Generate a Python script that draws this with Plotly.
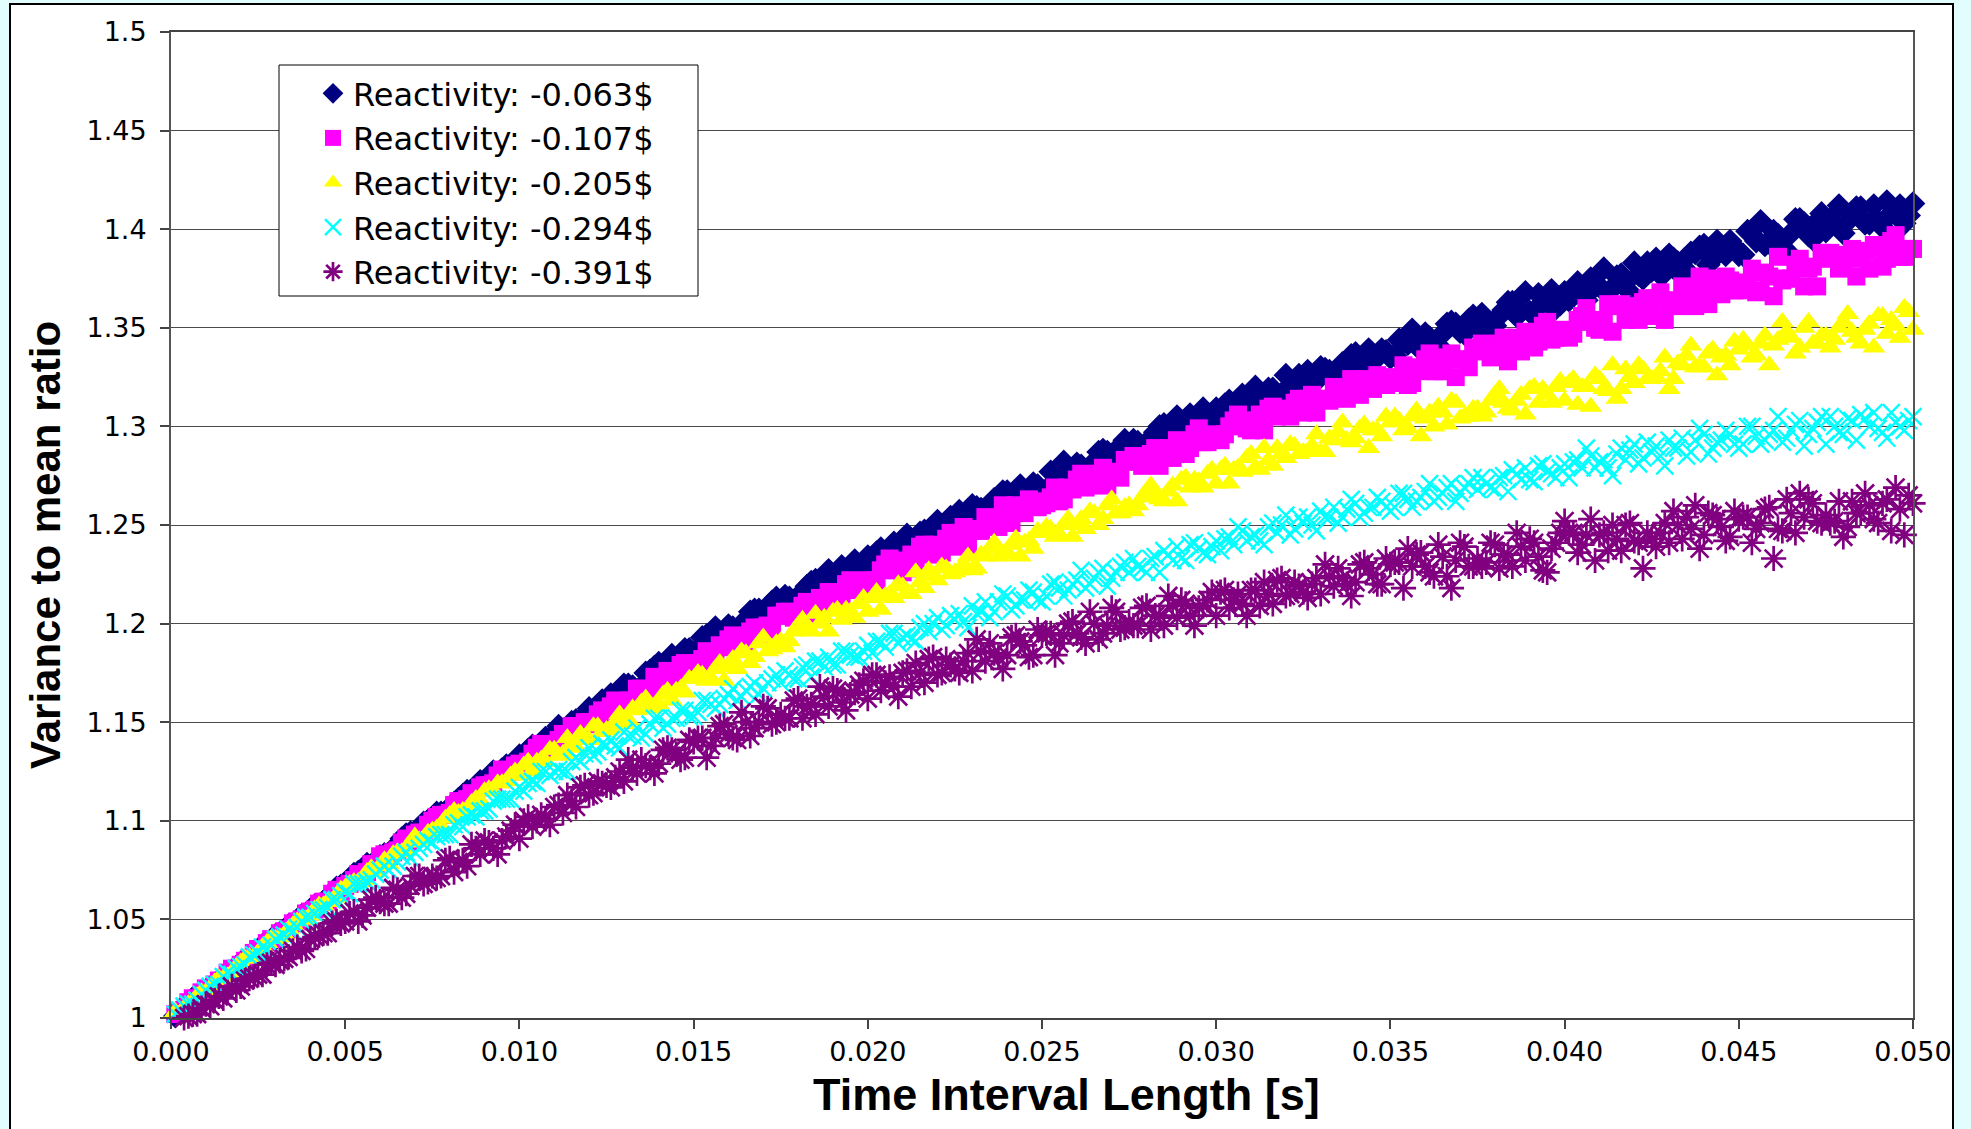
import plotly.graph_objects as go

# ---------------- data ----------------
# sampling times in milliseconds (two interleaved readings of each band)
time_ms = [
    0.25, 0.5, 0.75, 1, 1.25, 1.5, 1.75, 2, 2.25, 2.5,
    2.75, 3, 3.25, 3.5, 3.75, 4, 4.25, 4.5, 4.75, 5,
    5.25, 5.5, 5.75, 6, 6.25, 6.5, 6.75, 7, 7.25, 7.5,
    7.75, 8, 8.25, 8.5, 8.75, 9, 9.25, 9.5, 9.75, 10,
    10.25, 10.5, 10.75, 11, 11.25, 11.5, 11.75, 12, 12.25, 12.5,
    12.75, 13, 13.25, 13.5, 13.75, 14, 14.25, 14.5, 14.75, 15,
    15.25, 15.5, 15.75, 16, 16.25, 16.5, 16.75, 17, 17.25, 17.5,
    17.75, 18, 18.25, 18.5, 18.75, 19, 19.25, 19.5, 19.75, 20,
    20.25, 20.5, 20.75, 21, 21.25, 21.5, 21.75, 22, 22.25, 22.5,
    22.75, 23, 23.25, 23.5, 23.75, 24, 24.25, 24.5, 24.75, 25,
    25.25, 25.5, 25.75, 26, 26.25, 26.5, 26.75, 27, 27.25, 27.5,
    27.75, 28, 28.25, 28.5, 28.75, 29, 29.25, 29.5, 29.75, 30,
    30.25, 30.5, 30.75, 31, 31.25, 31.5, 31.75, 32, 32.25, 32.5,
    32.75, 33, 33.25, 33.5, 33.75, 34, 34.25, 34.5, 34.75, 35,
    35.25, 35.5, 35.75, 36, 36.25, 36.5, 36.75, 37, 37.25, 37.5,
    37.75, 38, 38.25, 38.5, 38.75, 39, 39.25, 39.5, 39.75, 40,
    40.25, 40.5, 40.75, 41, 41.25, 41.5, 41.75, 42, 42.25, 42.5,
    42.75, 43, 43.25, 43.5, 43.75, 44, 44.25, 44.5, 44.75, 45,
    45.25, 45.5, 45.75, 46, 46.25, 46.5, 46.75, 47, 47.25, 47.5,
    47.75, 48, 48.25, 48.5, 48.75, 49, 49.25, 49.5, 49.75, 50,
]
time_mid_ms = [
    0.125, 0.375, 0.625, 0.875, 1.125, 1.375, 1.625, 1.875, 2.125, 2.375,
    2.625, 2.875, 3.125, 3.375, 3.625, 3.875, 4.125, 4.375, 4.625, 4.875,
    5.125, 5.375, 5.625, 5.875, 6.125, 6.375, 6.625, 6.875, 7.125, 7.375,
    7.625, 7.875, 8.125, 8.375, 8.625, 8.875, 9.125, 9.375, 9.625, 9.875,
    10.125, 10.375, 10.625, 10.875, 11.125, 11.375, 11.625, 11.875, 12.125, 12.375,
    12.625, 12.875, 13.125, 13.375, 13.625, 13.875, 14.125, 14.375, 14.625, 14.875,
    15.125, 15.375, 15.625, 15.875, 16.125, 16.375, 16.625, 16.875, 17.125, 17.375,
    17.625, 17.875, 18.125, 18.375, 18.625, 18.875, 19.125, 19.375, 19.625, 19.875,
    20.125, 20.375, 20.625, 20.875, 21.125, 21.375, 21.625, 21.875, 22.125, 22.375,
    22.625, 22.875, 23.125, 23.375, 23.625, 23.875, 24.125, 24.375, 24.625, 24.875,
    25.125, 25.375, 25.625, 25.875, 26.125, 26.375, 26.625, 26.875, 27.125, 27.375,
    27.625, 27.875, 28.125, 28.375, 28.625, 28.875, 29.125, 29.375, 29.625, 29.875,
    30.125, 30.375, 30.625, 30.875, 31.125, 31.375, 31.625, 31.875, 32.125, 32.375,
    32.625, 32.875, 33.125, 33.375, 33.625, 33.875, 34.125, 34.375, 34.625, 34.875,
    35.125, 35.375, 35.625, 35.875, 36.125, 36.375, 36.625, 36.875, 37.125, 37.375,
    37.625, 37.875, 38.125, 38.375, 38.625, 38.875, 39.125, 39.375, 39.625, 39.875,
    40.125, 40.375, 40.625, 40.875, 41.125, 41.375, 41.625, 41.875, 42.125, 42.375,
    42.625, 42.875, 43.125, 43.375, 43.625, 43.875, 44.125, 44.375, 44.625, 44.875,
    45.125, 45.375, 45.625, 45.875, 46.125, 46.375, 46.625, 46.875, 47.125, 47.375,
    47.625, 47.875, 48.125, 48.375, 48.625, 48.875, 49.125, 49.375, 49.625, 49.875,
]

vmr_063 = [
    1.004, 1.006, 1.011, 1.014, 1.016, 1.021, 1.024, 1.028, 1.030, 1.034,
    1.036, 1.042, 1.044, 1.047, 1.052, 1.055, 1.057, 1.061, 1.066, 1.067,
    1.073, 1.075, 1.077, 1.082, 1.083, 1.088, 1.093, 1.093, 1.099, 1.100,
    1.104, 1.105, 1.111, 1.115, 1.116, 1.119, 1.125, 1.126, 1.127, 1.133,
    1.136, 1.137, 1.142, 1.143, 1.144, 1.150, 1.151, 1.157, 1.156, 1.160,
    1.161, 1.169, 1.168, 1.168, 1.176, 1.180, 1.178, 1.182, 1.187, 1.185,
    1.193, 1.193, 1.193, 1.199, 1.197, 1.202, 1.207, 1.204, 1.211, 1.209,
    1.213, 1.212, 1.219, 1.222, 1.220, 1.222, 1.229, 1.228, 1.227, 1.234,
    1.236, 1.234, 1.241, 1.240, 1.239, 1.246, 1.244, 1.252, 1.248, 1.252,
    1.252, 1.260, 1.258, 1.256, 1.264, 1.267, 1.263, 1.267, 1.271, 1.267,
    1.277, 1.275, 1.275, 1.281, 1.277, 1.282, 1.288, 1.284, 1.290, 1.288,
    1.292, 1.289, 1.297, 1.301, 1.297, 1.298, 1.306, 1.304, 1.301, 1.309,
    1.311, 1.308, 1.316, 1.313, 1.311, 1.319, 1.316, 1.326, 1.319, 1.323,
    1.323, 1.330, 1.328, 1.325, 1.333, 1.337, 1.332, 1.336, 1.339, 1.335,
    1.344, 1.342, 1.341, 1.347, 1.342, 1.347, 1.353, 1.348, 1.354, 1.351,
    1.354, 1.351, 1.359, 1.363, 1.358, 1.358, 1.367, 1.363, 1.360, 1.368,
    1.369, 1.366, 1.375, 1.371, 1.368, 1.376, 1.373, 1.383, 1.375, 1.379,
    1.377, 1.387, 1.383, 1.379, 1.388, 1.392, 1.385, 1.389, 1.394, 1.387,
    1.399, 1.394, 1.392, 1.399, 1.391, 1.398, 1.405, 1.397, 1.404, 1.399,
    1.403, 1.398, 1.407, 1.411, 1.403, 1.404, 1.414, 1.408, 1.403, 1.413,
]
vmr_063_mid = [
    1.001, 1.005, 1.010, 1.012, 1.015, 1.018, 1.023, 1.026, 1.028, 1.033,
    1.037, 1.038, 1.043, 1.047, 1.049, 1.052, 1.057, 1.059, 1.063, 1.067,
    1.069, 1.074, 1.078, 1.079, 1.083, 1.084, 1.091, 1.094, 1.095, 1.100,
    1.104, 1.104, 1.109, 1.113, 1.114, 1.120, 1.120, 1.124, 1.128, 1.130,
    1.132, 1.138, 1.137, 1.142, 1.148, 1.146, 1.151, 1.150, 1.156, 1.161,
    1.164, 1.162, 1.169, 1.166, 1.175, 1.178, 1.175, 1.184, 1.182, 1.187,
    1.186, 1.194, 1.198, 1.194, 1.198, 1.197, 1.206, 1.207, 1.205, 1.213,
    1.214, 1.210, 1.216, 1.221, 1.219, 1.227, 1.222, 1.227, 1.232, 1.229,
    1.231, 1.238, 1.234, 1.239, 1.245, 1.241, 1.247, 1.243, 1.249, 1.254,
    1.257, 1.253, 1.259, 1.253, 1.263, 1.267, 1.260, 1.270, 1.266, 1.270,
    1.268, 1.276, 1.282, 1.276, 1.280, 1.275, 1.287, 1.287, 1.283, 1.293,
    1.293, 1.287, 1.294, 1.300, 1.296, 1.305, 1.297, 1.303, 1.309, 1.304,
    1.306, 1.313, 1.307, 1.313, 1.320, 1.314, 1.319, 1.313, 1.321, 1.326,
    1.328, 1.323, 1.329, 1.323, 1.332, 1.336, 1.329, 1.339, 1.335, 1.338,
    1.336, 1.343, 1.349, 1.342, 1.345, 1.341, 1.352, 1.352, 1.347, 1.356,
    1.357, 1.347, 1.356, 1.363, 1.356, 1.368, 1.357, 1.363, 1.369, 1.362,
    1.364, 1.373, 1.364, 1.371, 1.380, 1.370, 1.377, 1.368, 1.377, 1.383,
    1.385, 1.378, 1.385, 1.376, 1.388, 1.391, 1.382, 1.394, 1.387, 1.391,
    1.387, 1.397, 1.404, 1.393, 1.397, 1.389, 1.405, 1.403, 1.395, 1.408,
    1.405, 1.412, 1.404, 1.411, 1.403, 1.412, 1.401, 1.408, 1.412, 1.407,
]

vmr_107 = [
    1.003, 1.008, 1.009, 1.015, 1.017, 1.019, 1.025, 1.027, 1.030, 1.035,
    1.038, 1.040, 1.044, 1.048, 1.050, 1.054, 1.058, 1.059, 1.065, 1.067,
    1.070, 1.071, 1.078, 1.082, 1.082, 1.085, 1.091, 1.093, 1.094, 1.100,
    1.103, 1.104, 1.110, 1.111, 1.112, 1.118, 1.119, 1.126, 1.125, 1.129,
    1.130, 1.137, 1.137, 1.136, 1.144, 1.148, 1.145, 1.150, 1.154, 1.152,
    1.161, 1.160, 1.161, 1.167, 1.165, 1.170, 1.176, 1.173, 1.180, 1.178,
    1.182, 1.181, 1.189, 1.192, 1.189, 1.191, 1.198, 1.198, 1.197, 1.204,
    1.206, 1.204, 1.211, 1.210, 1.209, 1.216, 1.214, 1.222, 1.218, 1.222,
    1.222, 1.230, 1.228, 1.226, 1.235, 1.239, 1.235, 1.239, 1.243, 1.239,
    1.249, 1.247, 1.247, 1.253, 1.249, 1.254, 1.260, 1.256, 1.262, 1.260,
    1.264, 1.262, 1.269, 1.273, 1.269, 1.271, 1.279, 1.276, 1.274, 1.282,
    1.284, 1.281, 1.289, 1.286, 1.284, 1.292, 1.289, 1.299, 1.292, 1.296,
    1.296, 1.303, 1.301, 1.298, 1.306, 1.309, 1.305, 1.308, 1.312, 1.307,
    1.316, 1.314, 1.313, 1.318, 1.314, 1.319, 1.324, 1.319, 1.325, 1.322,
    1.325, 1.321, 1.330, 1.334, 1.328, 1.328, 1.337, 1.334, 1.330, 1.338,
    1.339, 1.336, 1.345, 1.341, 1.338, 1.346, 1.343, 1.353, 1.345, 1.349,
    1.347, 1.356, 1.353, 1.349, 1.362, 1.361, 1.354, 1.359, 1.363, 1.356,
    1.368, 1.363, 1.361, 1.368, 1.361, 1.368, 1.375, 1.367, 1.374, 1.369,
    1.373, 1.368, 1.378, 1.366, 1.374, 1.375, 1.385, 1.380, 1.371, 1.385,
    1.386, 1.381, 1.390, 1.385, 1.380, 1.390, 1.385, 1.397, 1.386, 1.390,
]
vmr_107_mid = [
    1.002, 1.004, 1.010, 1.013, 1.014, 1.019, 1.023, 1.025, 1.029, 1.033,
    1.035, 1.040, 1.043, 1.045, 1.049, 1.053, 1.055, 1.059, 1.063, 1.064,
    1.068, 1.073, 1.074, 1.078, 1.083, 1.084, 1.089, 1.089, 1.094, 1.098,
    1.102, 1.103, 1.108, 1.108, 1.114, 1.117, 1.118, 1.123, 1.124, 1.128,
    1.128, 1.134, 1.139, 1.137, 1.141, 1.140, 1.148, 1.150, 1.149, 1.156,
    1.158, 1.155, 1.161, 1.167, 1.164, 1.173, 1.168, 1.174, 1.179, 1.177,
    1.179, 1.186, 1.183, 1.188, 1.194, 1.190, 1.196, 1.193, 1.199, 1.204,
    1.206, 1.203, 1.209, 1.205, 1.213, 1.216, 1.212, 1.220, 1.217, 1.221,
    1.219, 1.227, 1.233, 1.227, 1.232, 1.228, 1.240, 1.240, 1.236, 1.246,
    1.246, 1.240, 1.248, 1.254, 1.250, 1.260, 1.251, 1.257, 1.263, 1.259,
    1.261, 1.269, 1.263, 1.268, 1.276, 1.270, 1.276, 1.270, 1.277, 1.283,
    1.285, 1.280, 1.286, 1.280, 1.289, 1.293, 1.286, 1.296, 1.292, 1.295,
    1.293, 1.300, 1.306, 1.299, 1.303, 1.298, 1.310, 1.309, 1.305, 1.314,
    1.314, 1.307, 1.314, 1.320, 1.315, 1.324, 1.316, 1.321, 1.326, 1.321,
    1.322, 1.331, 1.322, 1.328, 1.337, 1.328, 1.335, 1.325, 1.334, 1.340,
    1.342, 1.335, 1.342, 1.333, 1.345, 1.348, 1.340, 1.351, 1.344, 1.348,
    1.345, 1.354, 1.360, 1.350, 1.354, 1.348, 1.362, 1.361, 1.354, 1.365,
    1.365, 1.354, 1.364, 1.371, 1.363, 1.376, 1.362, 1.369, 1.376, 1.369,
    1.370, 1.380, 1.369, 1.376, 1.386, 1.375, 1.382, 1.371, 1.381, 1.388,
    1.388, 1.380, 1.387, 1.376, 1.389, 1.392, 1.381, 1.394, 1.386, 1.390,
]

vmr_205 = [
    1.002, 1.007, 1.011, 1.013, 1.018, 1.020, 1.023, 1.028, 1.031, 1.033,
    1.038, 1.040, 1.042, 1.047, 1.050, 1.052, 1.057, 1.059, 1.061, 1.066,
    1.069, 1.070, 1.076, 1.077, 1.078, 1.084, 1.085, 1.092, 1.091, 1.095,
    1.097, 1.103, 1.104, 1.105, 1.111, 1.115, 1.115, 1.119, 1.123, 1.123,
    1.130, 1.130, 1.130, 1.136, 1.134, 1.139, 1.144, 1.141, 1.148, 1.146,
    1.150, 1.149, 1.157, 1.160, 1.157, 1.159, 1.166, 1.166, 1.165, 1.172,
    1.174, 1.172, 1.180, 1.178, 1.177, 1.185, 1.183, 1.193, 1.187, 1.191,
    1.191, 1.199, 1.197, 1.205, 1.203, 1.206, 1.202, 1.206, 1.210, 1.206,
    1.216, 1.214, 1.213, 1.219, 1.215, 1.221, 1.227, 1.222, 1.228, 1.226,
    1.230, 1.227, 1.235, 1.238, 1.234, 1.236, 1.243, 1.241, 1.238, 1.246,
    1.248, 1.245, 1.253, 1.250, 1.248, 1.256, 1.253, 1.263, 1.256, 1.260,
    1.260, 1.267, 1.265, 1.262, 1.270, 1.273, 1.269, 1.272, 1.276, 1.271,
    1.280, 1.278, 1.277, 1.286, 1.278, 1.283, 1.289, 1.284, 1.290, 1.287,
    1.290, 1.287, 1.294, 1.297, 1.293, 1.294, 1.301, 1.298, 1.295, 1.302,
    1.303, 1.299, 1.308, 1.304, 1.300, 1.307, 1.313, 1.304, 1.305, 1.309,
    1.307, 1.316, 1.312, 1.308, 1.316, 1.319, 1.312, 1.316, 1.320, 1.313,
    1.324, 1.320, 1.310, 1.324, 1.318, 1.314, 1.329, 1.322, 1.329, 1.324,
    1.328, 1.319, 1.332, 1.336, 1.330, 1.330, 1.339, 1.335, 1.331, 1.339,
    1.341, 1.336, 1.346, 1.341, 1.353, 1.345, 1.340, 1.353, 1.342, 1.346,
    1.344, 1.353, 1.348, 1.342, 1.352, 1.356, 1.347, 1.351, 1.360, 1.349,
]
vmr_205_mid = [
    1.003, 1.005, 1.008, 1.013, 1.015, 1.020, 1.021, 1.026, 1.030, 1.031,
    1.036, 1.040, 1.041, 1.045, 1.049, 1.050, 1.055, 1.057, 1.059, 1.065,
    1.068, 1.069, 1.074, 1.074, 1.080, 1.083, 1.084, 1.089, 1.090, 1.094,
    1.096, 1.101, 1.105, 1.105, 1.109, 1.110, 1.116, 1.119, 1.120, 1.125,
    1.128, 1.125, 1.131, 1.136, 1.133, 1.142, 1.137, 1.142, 1.148, 1.145,
    1.147, 1.154, 1.151, 1.156, 1.162, 1.158, 1.164, 1.161, 1.167, 1.172,
    1.175, 1.171, 1.177, 1.171, 1.182, 1.186, 1.180, 1.190, 1.186, 1.190,
    1.188, 1.196, 1.202, 1.196, 1.200, 1.196, 1.207, 1.207, 1.203, 1.213,
    1.213, 1.207, 1.215, 1.220, 1.216, 1.226, 1.218, 1.224, 1.229, 1.225,
    1.227, 1.234, 1.228, 1.234, 1.241, 1.235, 1.240, 1.234, 1.242, 1.247,
    1.249, 1.244, 1.250, 1.244, 1.253, 1.257, 1.250, 1.260, 1.256, 1.259,
    1.257, 1.264, 1.270, 1.263, 1.267, 1.262, 1.274, 1.273, 1.269, 1.278,
    1.278, 1.271, 1.279, 1.284, 1.279, 1.289, 1.280, 1.286, 1.291, 1.286,
    1.287, 1.296, 1.287, 1.293, 1.302, 1.292, 1.299, 1.289, 1.298, 1.305,
    1.305, 1.298, 1.305, 1.295, 1.307, 1.310, 1.301, 1.312, 1.305, 1.309,
    1.305, 1.313, 1.319, 1.309, 1.313, 1.306, 1.320, 1.319, 1.312, 1.323,
    1.322, 1.311, 1.320, 1.326, 1.319, 1.331, 1.319, 1.325, 1.331, 1.324,
    1.325, 1.335, 1.324, 1.331, 1.341, 1.330, 1.337, 1.326, 1.336, 1.343,
    1.344, 1.335, 1.342, 1.331, 1.344, 1.348, 1.337, 1.350, 1.342, 1.346,
    1.340, 1.350, 1.357, 1.345, 1.349, 1.340, 1.356, 1.354, 1.345, 1.358,
]

vmr_294 = [
    1.004, 1.007, 1.009, 1.014, 1.017, 1.021, 1.022, 1.026, 1.031, 1.033,
    1.035, 1.040, 1.042, 1.044, 1.049, 1.051, 1.055, 1.056, 1.060, 1.064,
    1.068, 1.068, 1.070, 1.075, 1.075, 1.079, 1.084, 1.084, 1.088, 1.089,
    1.093, 1.093, 1.099, 1.102, 1.102, 1.105, 1.110, 1.111, 1.111, 1.117,
    1.119, 1.119, 1.125, 1.125, 1.125, 1.130, 1.130, 1.137, 1.135, 1.138,
    1.138, 1.145, 1.143, 1.142, 1.149, 1.152, 1.149, 1.152, 1.156, 1.153,
    1.161, 1.159, 1.159, 1.164, 1.161, 1.166, 1.170, 1.167, 1.172, 1.170,
    1.174, 1.172, 1.179, 1.181, 1.178, 1.179, 1.186, 1.184, 1.183, 1.189,
    1.191, 1.188, 1.195, 1.193, 1.192, 1.198, 1.196, 1.203, 1.199, 1.202,
    1.201, 1.209, 1.206, 1.203, 1.211, 1.214, 1.209, 1.212, 1.216, 1.211,
    1.220, 1.218, 1.217, 1.222, 1.218, 1.223, 1.228, 1.223, 1.229, 1.226,
    1.229, 1.226, 1.234, 1.237, 1.232, 1.233, 1.240, 1.238, 1.235, 1.242,
    1.243, 1.240, 1.247, 1.244, 1.242, 1.249, 1.246, 1.255, 1.248, 1.251,
    1.250, 1.257, 1.254, 1.251, 1.258, 1.261, 1.256, 1.259, 1.262, 1.257,
    1.266, 1.263, 1.262, 1.267, 1.262, 1.266, 1.271, 1.266, 1.271, 1.268,
    1.271, 1.268, 1.275, 1.278, 1.273, 1.273, 1.280, 1.277, 1.274, 1.281,
    1.282, 1.279, 1.285, 1.282, 1.279, 1.286, 1.283, 1.291, 1.284, 1.287,
    1.285, 1.293, 1.289, 1.285, 1.293, 1.296, 1.289, 1.293, 1.296, 1.289,
    1.300, 1.295, 1.293, 1.298, 1.292, 1.298, 1.303, 1.296, 1.302, 1.291,
    1.300, 1.296, 1.303, 1.306, 1.300, 1.299, 1.294, 1.302, 1.298, 1.305,
]
vmr_294_mid = [
    1.002, 1.006, 1.007, 1.012, 1.016, 1.017, 1.023, 1.025, 1.027, 1.032,
    1.036, 1.037, 1.041, 1.045, 1.046, 1.051, 1.053, 1.055, 1.060, 1.062,
    1.063, 1.068, 1.069, 1.073, 1.077, 1.077, 1.082, 1.081, 1.086, 1.090,
    1.092, 1.093, 1.098, 1.097, 1.103, 1.105, 1.106, 1.111, 1.111, 1.115,
    1.115, 1.120, 1.125, 1.123, 1.126, 1.125, 1.132, 1.134, 1.133, 1.139,
    1.141, 1.137, 1.143, 1.147, 1.144, 1.152, 1.147, 1.152, 1.156, 1.153,
    1.155, 1.161, 1.157, 1.162, 1.167, 1.163, 1.168, 1.164, 1.170, 1.174,
    1.176, 1.172, 1.178, 1.173, 1.181, 1.183, 1.179, 1.186, 1.183, 1.186,
    1.185, 1.191, 1.195, 1.190, 1.194, 1.191, 1.200, 1.200, 1.197, 1.204,
    1.205, 1.198, 1.205, 1.211, 1.206, 1.215, 1.207, 1.212, 1.217, 1.212,
    1.214, 1.221, 1.214, 1.220, 1.227, 1.220, 1.226, 1.219, 1.226, 1.231,
    1.233, 1.228, 1.233, 1.226, 1.235, 1.239, 1.232, 1.241, 1.236, 1.239,
    1.237, 1.244, 1.249, 1.242, 1.245, 1.240, 1.251, 1.250, 1.245, 1.254,
    1.254, 1.247, 1.254, 1.259, 1.254, 1.263, 1.254, 1.259, 1.264, 1.259,
    1.259, 1.266, 1.259, 1.264, 1.271, 1.264, 1.269, 1.262, 1.269, 1.274,
    1.274, 1.269, 1.274, 1.267, 1.276, 1.279, 1.272, 1.281, 1.276, 1.279,
    1.274, 1.283, 1.289, 1.279, 1.283, 1.275, 1.289, 1.288, 1.281, 1.292,
    1.290, 1.280, 1.289, 1.294, 1.287, 1.299, 1.286, 1.292, 1.298, 1.291,
    1.291, 1.300, 1.291, 1.296, 1.305, 1.294, 1.301, 1.290, 1.299, 1.305,
    1.305, 1.297, 1.304, 1.293, 1.304, 1.307, 1.297, 1.307, 1.300, 1.303,
]

vmr_391 = [
    0.998, 1.001, 1.002, 1.007, 1.009, 1.010, 1.016, 1.016, 1.020, 1.022,
    1.027, 1.027, 1.030, 1.034, 1.034, 1.040, 1.042, 1.043, 1.049, 1.049,
    1.054, 1.052, 1.060, 1.059, 1.058, 1.065, 1.063, 1.072, 1.068, 1.072,
    1.072, 1.081, 1.079, 1.077, 1.086, 1.090, 1.086, 1.090, 1.095, 1.091,
    1.102, 1.100, 1.101, 1.107, 1.104, 1.110, 1.117, 1.113, 1.120, 1.118,
    1.122, 1.120, 1.127, 1.131, 1.127, 1.129, 1.137, 1.134, 1.132, 1.140,
    1.142, 1.138, 1.148, 1.144, 1.141, 1.150, 1.147, 1.158, 1.149, 1.154,
    1.152, 1.162, 1.158, 1.154, 1.163, 1.167, 1.160, 1.164, 1.169, 1.162,
    1.174, 1.170, 1.168, 1.175, 1.168, 1.175, 1.182, 1.174, 1.182, 1.177,
    1.181, 1.176, 1.186, 1.190, 1.183, 1.184, 1.194, 1.189, 1.184, 1.194,
    1.195, 1.190, 1.200, 1.195, 1.190, 1.200, 1.195, 1.208, 1.197, 1.201,
    1.199, 1.209, 1.204, 1.199, 1.209, 1.212, 1.204, 1.208, 1.212, 1.204,
    1.217, 1.212, 1.210, 1.217, 1.209, 1.215, 1.222, 1.214, 1.221, 1.216,
    1.220, 1.215, 1.224, 1.228, 1.220, 1.221, 1.231, 1.225, 1.220, 1.230,
    1.231, 1.238, 1.235, 1.229, 1.224, 1.234, 1.218, 1.241, 1.229, 1.233,
    1.231, 1.240, 1.235, 1.229, 1.239, 1.243, 1.234, 1.226, 1.241, 1.252,
    1.246, 1.240, 1.253, 1.245, 1.237, 1.243, 1.250, 1.242, 1.228, 1.243,
    1.246, 1.241, 1.250, 1.254, 1.260, 1.245, 1.255, 1.249, 1.244, 1.253,
    1.254, 1.248, 1.258, 1.233, 1.247, 1.256, 1.266, 1.263, 1.252, 1.255,
    1.252, 1.244, 1.262, 1.256, 1.260, 1.251, 1.263, 1.269, 1.245, 1.261,
]
vmr_391_mid = [
    0.999, 1.000, 1.002, 1.005, 1.006, 1.011, 1.013, 1.014, 1.019, 1.021,
    1.022, 1.028, 1.029, 1.031, 1.036, 1.035, 1.041, 1.043, 1.048, 1.048,
    1.053, 1.049, 1.056, 1.061, 1.058, 1.066, 1.061, 1.067, 1.072, 1.069,
    1.071, 1.080, 1.074, 1.080, 1.088, 1.083, 1.089, 1.083, 1.092, 1.098,
    1.100, 1.097, 1.103, 1.098, 1.108, 1.113, 1.107, 1.118, 1.114, 1.119,
    1.117, 1.125, 1.131, 1.124, 1.128, 1.124, 1.136, 1.136, 1.131, 1.141,
    1.142, 1.132, 1.142, 1.149, 1.142, 1.155, 1.143, 1.150, 1.157, 1.150,
    1.152, 1.161, 1.152, 1.159, 1.168, 1.158, 1.166, 1.156, 1.165, 1.171,
    1.174, 1.166, 1.173, 1.163, 1.176, 1.180, 1.170, 1.183, 1.175, 1.179,
    1.175, 1.185, 1.192, 1.181, 1.185, 1.177, 1.193, 1.191, 1.183, 1.197,
    1.195, 1.184, 1.194, 1.201, 1.193, 1.206, 1.192, 1.199, 1.206, 1.198,
    1.199, 1.208, 1.197, 1.204, 1.214, 1.203, 1.210, 1.199, 1.209, 1.216,
    1.216, 1.208, 1.215, 1.204, 1.217, 1.221, 1.210, 1.223, 1.215, 1.219,
    1.213, 1.223, 1.230, 1.219, 1.223, 1.214, 1.230, 1.228, 1.220, 1.233,
    1.231, 1.218, 1.229, 1.236, 1.226, 1.240, 1.224, 1.232, 1.239, 1.229,
    1.229, 1.241, 1.228, 1.235, 1.246, 1.232, 1.241, 1.227, 1.238, 1.246,
    1.246, 1.236, 1.245, 1.232, 1.246, 1.250, 1.237, 1.251, 1.241, 1.246,
    1.239, 1.251, 1.257, 1.243, 1.248, 1.238, 1.256, 1.253, 1.242, 1.257,
    1.254, 1.241, 1.251, 1.259, 1.248, 1.263, 1.246, 1.254, 1.261, 1.251,
    1.251, 1.262, 1.249, 1.256, 1.266, 1.253, 1.261, 1.247, 1.258, 1.265,
]

series_names = [
    "Reactivity: -0.063$",
    "Reactivity: -0.107$",
    "Reactivity: -0.205$",
    "Reactivity: -0.294$",
    "Reactivity: -0.391$",
]

x_tick_vals = [0.000, 0.005, 0.010, 0.015, 0.020, 0.025, 0.030, 0.035, 0.040, 0.045, 0.050]
x_tick_text = ["0.000", "0.005", "0.010", "0.015", "0.020", "0.025",
               "0.030", "0.035", "0.040", "0.045", "0.050"]
y_tick_vals = [1.0, 1.05, 1.1, 1.15, 1.2, 1.25, 1.3, 1.35, 1.4, 1.45, 1.5]
y_tick_text = ["1", "1.05", "1.1", "1.15", "1.2", "1.25", "1.3", "1.35", "1.4", "1.45", "1.5"]

x_title = "Time Interval Length [s]"
y_title = "Variance to mean ratio"

# ---------------- figure ----------------
FONT = "Liberation Sans, Arial, sans-serif"
FONT_WIDE = "DejaVu Sans, Liberation Sans, sans-serif"
PAGE_BG = "#e2fdfd"
W, H = 1971, 1129
L, R, T, B = 171, 58, 32, 111
pw, ph = W - L - R, H - T - B

t_all = [t / 1000.0 for t in time_ms] + [t / 1000.0 for t in time_mid_ms]

styles = [
    dict(symbol="diamond", size=19, color="#000080", line=dict(width=0)),
    dict(symbol="square", size=18, color="#ff00ff", line=dict(width=0)),
    dict(symbol="triangle-up", size=20, color="#ffff00", line=dict(width=0)),
    dict(symbol="x-thin", size=17, color="#00ffff", line=dict(width=2.4, color="#00ffff")),
    dict(symbol="asterisk", size=21, color="#800080", line=dict(width=2.7, color="#800080")),
]
all_series = [
    vmr_063 + vmr_063_mid,
    vmr_107 + vmr_107_mid,
    vmr_205 + vmr_205_mid,
    vmr_294 + vmr_294_mid,
    vmr_391 + vmr_391_mid,
]

fig = go.Figure()
for name, ys, st in zip(series_names, all_series, styles):
    fig.add_trace(go.Scatter(
        x=t_all, y=ys, mode="markers", name=name,
        marker=st, cliponaxis=False,
    ))


def px_x(p):
    return (p - L) / pw


def px_y(p):
    return (H - B - p) / ph


fig.update_layout(
    width=W, height=H,
    margin=dict(l=L, r=R, t=T, b=B, autoexpand=False),
    paper_bgcolor=PAGE_BG,
    plot_bgcolor="#ffffff",
    font=dict(family=FONT, color="#000000", size=27),
    showlegend=True,
    legend=dict(
        x=px_x(313), y=px_y(66), xanchor="left", yanchor="top",
        bgcolor="rgba(0,0,0,0)", borderwidth=0,
        font=dict(family=FONT_WIDE, size=32, color="#000000"),
        itemwidth=30, tracegroupgap=0,
    ),
    xaxis=dict(
        range=[0, 0.05], tickvals=x_tick_vals, ticktext=x_tick_text,
        showgrid=False, zeroline=False,
        showline=True, linecolor="#444444", linewidth=2, mirror=True,
        ticks="outside", ticklen=9, tickwidth=1.5, tickcolor="#444444",
        tickfont=dict(family=FONT_WIDE, size=27, color="#000000"),
    ),
    yaxis=dict(
        range=[1, 1.5], tickvals=y_tick_vals, ticktext=y_tick_text,
        showgrid=True, gridcolor="#4a4a4a", gridwidth=1.3, zeroline=False,
        showline=True, linecolor="#555555", linewidth=2, mirror=True,
        ticks="outside", ticklen=9, tickwidth=1.5, tickcolor="#444444",
        tickfont=dict(family=FONT_WIDE, size=27, color="#000000"),
        ticklabelstandoff=8,
    ),
    shapes=[
        # white chart panel on the pale cyan page
        dict(type="rect", xref="paper", yref="paper", layer="below",
             x0=px_x(10), x1=px_x(1953), y0=px_y(1140), y1=px_y(4),
             fillcolor="#ffffff", line=dict(color="#000000", width=2)),
        # legend frame
        dict(type="rect", xref="paper", yref="paper", layer="above",
             x0=px_x(279), x1=px_x(698), y0=px_y(296), y1=px_y(65),
             fillcolor="#ffffff", line=dict(color="#000000", width=1)),
    ],
    annotations=[
        dict(text=x_title, xref="paper", yref="paper",
             x=px_x(1066), y=px_y(1094), xanchor="center", yanchor="middle",
             showarrow=False, font=dict(family=FONT, size=45, color="#000000", weight="bold")),
        dict(text=y_title, xref="paper", yref="paper", textangle=-90,
             x=px_x(45), y=px_y(545), xanchor="center", yanchor="middle",
             showarrow=False, font=dict(family=FONT, size=42, color="#000000", weight="bold")),
    ],
)

fig.write_html(
    "out.html",
    config={"displayModeBar": False},
    post_script=(
        "document.body.style.margin='0';"
        "document.body.style.padding='0';"
        "document.body.style.overflow='hidden';"
        "document.body.style.background='" + PAGE_BG + "';"
    ),
)
